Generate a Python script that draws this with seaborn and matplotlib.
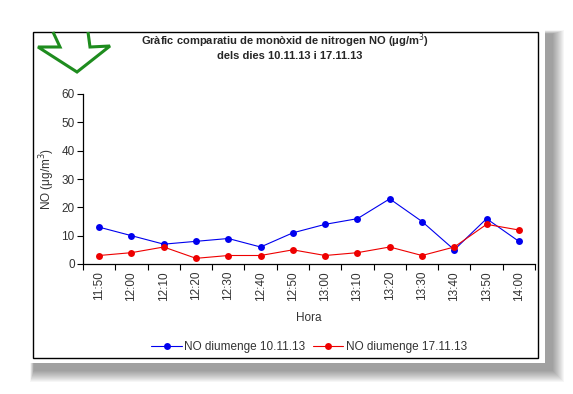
import pandas as pd
import matplotlib.pyplot as plt
import seaborn as sns
import numpy as np
from matplotlib.patches import Rectangle, Polygon

# data
hores = ["11:50", "12:00", "12:10", "12:20", "12:30", "12:40", "12:50",
         "13:00", "13:10", "13:20", "13:30", "13:40", "13:50", "14:00"]
no_10 = [13, 10, 7, 8, 9, 6, 11, 14, 16, 23, 15, 5, 16, 8]
no_17 = [3, 4, 6, 2, 3, 3, 5, 3, 4, 6, 3, 6, 14, 12]
series = ["NO diumenge 10.11.13", "NO diumenge 17.11.13"]

df = pd.DataFrame({
    "Hora": hores * 2,
    "NO": no_10 + no_17,
    "Serie": [series[0]] * len(hores) + [series[1]] * len(hores),
})

sns.set_style("white")
plt.rcParams['font.family'] = ['Liberation Sans', 'DejaVu Sans']

W, H = 573, 394
fig = plt.figure(figsize=(W / 100, H / 100), dpi=100)

def px(x, y):
    return x / W, 1 - y / H

def rect(xa, ya, xb, yb, **kw):
    x0, y1 = px(xa, ya)
    x1, y0 = px(xb, yb)
    fig.patches.append(Rectangle((x0, y0), x1 - x0, y1 - y0, transform=fig.transFigure, **kw))

# soft shadow behind the paper
for i in range(12):
    g = 12 - i
    rect(34 - g * 0.3, 34 - g * 0.3, 552 + g, 370 + g, facecolor="black",
         alpha=0.035, edgecolor="none", zorder=0)
rect(26, 26, 545, 363, facecolor="white", edgecolor="none", zorder=1)
rect(33, 32, 538, 358, facecolor="white", edgecolor="black", lw=1.0, zorder=2)

# green arrow decoration
arrow = [(53, 32), (60, 47), (38, 47), (77, 72), (110, 46), (90, 47), (88, 32)]
fig.patches.append(Polygon([px(*p) for p in arrow], closed=False, transform=fig.transFigure,
                           facecolor="none", edgecolor="#1e8c1e", lw=2.2, zorder=3))

ax = fig.add_axes([83 / W, 1 - 264 / H, (535 - 83) / W, (264 - 94) / H])
ax.set_zorder(5)
ax.patch.set_alpha(0)

sns.lineplot(data=df, x="Hora", y="NO", hue="Serie", palette=["#0000ee", "#ee0000"],
             marker="o", markersize=5, markeredgewidth=0, linewidth=0.8, ax=ax, sort=False)

ax.set_ylim(0, 60)
ax.set_yticks(range(0, 61, 10))
ax.set_xlim(-0.5, len(hores) - 0.5)
ax.set_xticks(range(len(hores)))
ax.set_xticklabels(hores, rotation=90)
ax.set_xticks(np.arange(-0.5, len(hores)), minor=True)
ax.tick_params(axis="x", which="major", length=0, pad=5, labelsize=8.5, colors="#333333")
ax.tick_params(axis="x", which="minor", length=4, width=0.8, direction="out", color="black")
ax.tick_params(axis="y", length=4, width=0.8, direction="out", labelsize=8.5,
               colors="#333333", pad=2)
ax.yaxis.set_tick_params(color="black")
ax.tick_params(axis="both", which="both", bottom=True, left=True)
for s in ["top", "right"]:
    ax.spines[s].set_visible(False)
for s in ["left", "bottom"]:
    ax.spines[s].set_color("black")
    ax.spines[s].set_linewidth(0.9)

ax.set_xlabel("Hora", fontsize=8.5, color="#333333")
ax.set_ylabel("NO (μg/m$^3$)", fontsize=8.5, color="#333333")
ax.yaxis.set_label_coords((57 - 83) / 452, 0.5)
ax.xaxis.set_label_coords(0.5, -(312 - 264) / 170)

handles, labels = ax.get_legend_handles_labels()
ax.legend(handles, labels, loc="center", bbox_to_anchor=(0.5, -(347 - 264) / 170), ncol=2,
          frameon=False, fontsize=8.5, handlelength=2.6, handletextpad=0.2,
          columnspacing=0.6, labelcolor="#333333")

fig.text(*px(285, 41), "Gràfic comparatiu de monòxid de nitrogen NO (μg/m$^3$)",
         ha="center", va="center", fontsize=8, fontweight="bold", zorder=6)
fig.text(*px(290, 56), "dels dies 10.11.13 i 17.11.13",
         ha="center", va="center", fontsize=8, fontweight="bold", zorder=6)

fig.savefig("out.png", dpi=100, facecolor="white")
